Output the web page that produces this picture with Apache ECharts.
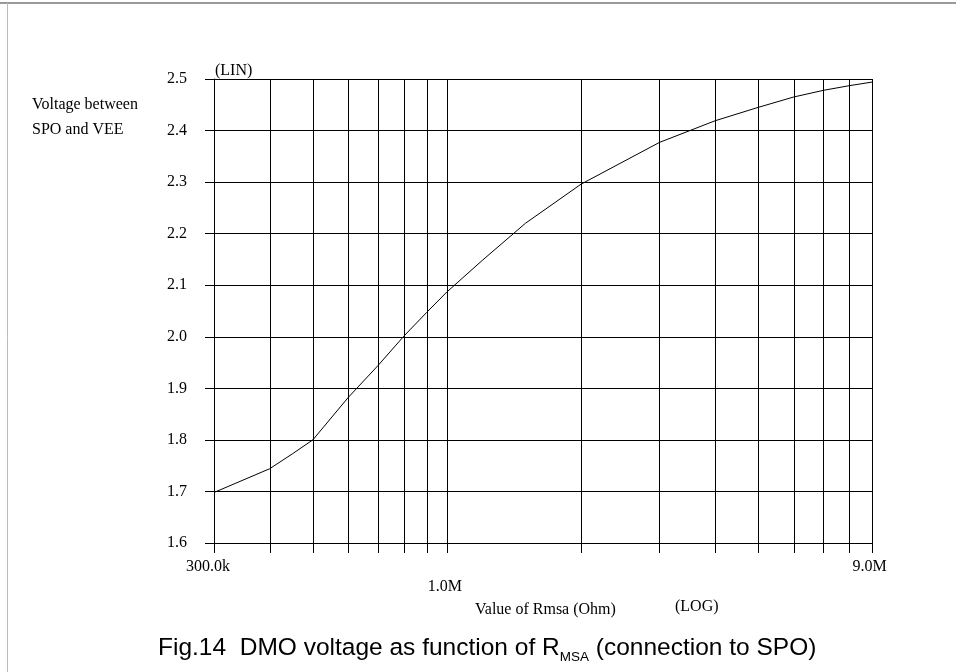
<!DOCTYPE html>
<html>
<head>
<meta charset="utf-8">
<title>DMO voltage vs Rmsa</title>
<script src="https://cdn.jsdelivr.net/npm/echarts@6/dist/echarts.min.js"></script>
<style>
  html, body { margin: 0; padding: 0; background: #fff; }
  #chart { width: 956px; height: 672px; }
</style>
</head>
<body>
<div id="chart"></div>
<script>
// Rmsa sweep (Ohm) and the resulting SPO-VEE voltage (V)
const rValues = [300e3, 400e3, 450e3, 500e3, 600e3, 700e3, 800e3, 900e3, 1e6,
                 1.2e6, 1.5e6, 2e6, 3e6, 4e6, 5e6, 6e6, 7e6, 8e6, 9e6];
const vValues = [1.698, 1.744, 1.773, 1.800, 1.882, 1.944, 2.001, 2.047, 2.087,
                 2.148, 2.220, 2.296, 2.377, 2.419, 2.445, 2.465, 2.478, 2.487, 2.494];

// Vertical grid positions on the logarithmic axis
const xGridValues = [300e3, 400e3, 500e3, 600e3, 700e3, 800e3, 900e3, 1e6,
                     2e6, 3e6, 4e6, 5e6, 6e6, 7e6, 8e6, 9e6];

// Axis ranges
const xMin = 300e3, xMax = 9e6;
const yMin = 1.6, yMax = 2.5, yStep = 0.1;

const serif = 'Liberation Serif';
const sans = 'Liberation Sans';

function fmtOhm(v) {
  if (v >= 1e6) return (v / 1e6).toFixed(1) + 'M';
  return (v / 1e3).toFixed(1) + 'k';
}

const chart = echarts.init(document.getElementById('chart'), null, { renderer: 'canvas' });

chart.setOption({
  animation: false,
  backgroundColor: '#fff',
  grid: { left: 214, top: 79, width: 658, height: 464, containLabel: false },
  xAxis: {
    type: 'log',
    logBase: 10,
    min: xMin,
    max: xMax,
    axisLine: { show: true, lineStyle: { color: '#000', width: 1 } },
    axisTick: { show: false },
    splitLine: { show: false },
    minorTick: { show: false },
    axisLabel: {
      showMinLabel: true,
      showMaxLabel: true,
      margin: 16,
      color: '#000',
      fontFamily: serif,
      fontSize: 16,
      formatter: function (v, i) {
        const t = fmtOhm(v);
        if (i === 0) return '{first|' + t + '}';
        if (v > 5e5 && v < 2e6) return '{low|' + t + '}';
        return '{norm|' + t + '}';
      },
      rich: {
        first: { fontFamily: serif, fontSize: 16, color: '#000', padding: [0, 12, 0, 0] },
        norm: { fontFamily: serif, fontSize: 16, color: '#000', padding: [0, 5, 0, 0] },
        low: { fontFamily: serif, fontSize: 16, color: '#000', padding: [20, 4, 0, 0] }
      }
    }
  },
  yAxis: {
    type: 'value',
    min: yMin,
    max: yMax,
    interval: yStep,
    axisLine: { show: true, lineStyle: { color: '#000', width: 1 } },
    axisTick: { show: true, inside: false, length: 9, lineStyle: { color: '#000', width: 1 } },
    splitLine: { show: true, lineStyle: { color: '#000', width: 1 } },
    axisLabel: {
      margin: 27,
      color: '#000',
      fontFamily: serif,
      fontSize: 16,
      formatter: function (v) { return v.toFixed(1); }
    }
  },
  graphic: [
    // page frame
    { type: 'line', shape: { x1: 0, y1: 3, x2: 956, y2: 3 }, style: { stroke: '#777', lineWidth: 1.5 }, silent: true },
    { type: 'line', shape: { x1: 7.5, y1: 3, x2: 7.5, y2: 672 }, style: { stroke: '#bbb', lineWidth: 1 }, silent: true },
    { type: 'text', x: 215, y: 71, style: { text: '(LIN)', font: '16px "' + serif + '"', fill: '#000', textVerticalAlign: 'middle' } },
    { type: 'text', x: 32, y: 105, style: { text: 'Voltage between', font: '16px "' + serif + '"', fill: '#000', textVerticalAlign: 'middle' } },
    { type: 'text', x: 32, y: 130, style: { text: 'SPO and VEE', font: '16px "' + serif + '"', fill: '#000', textVerticalAlign: 'middle' } },
    { type: 'text', x: 475, y: 610, style: { text: 'Value of Rmsa (Ohm)', font: '16px "' + serif + '"', fill: '#000', textVerticalAlign: 'middle' } },
    { type: 'text', x: 675, y: 607, style: { text: '(LOG)', font: '16px "' + serif + '"', fill: '#000', textVerticalAlign: 'middle' } },
    {
      type: 'text', x: 158, y: 636,
      style: {
        text: '{m|Fig.14  DMO voltage as function of R}{s|MSA}{m| (connection to SPO)}',
        fill: '#000',
        rich: {
          m: { fontFamily: sans, fontSize: 24.5, lineHeight: 27, color: '#000', verticalAlign: 'top' },
          s: { fontFamily: sans, fontSize: 13.5, lineHeight: 14, color: '#000', verticalAlign: 'top', padding: [14, 0, 0, 0] }
        }
      }
    }
  ],
  series: [
    {
      // vertical grid lines, each with a short tick below the axis
      type: 'custom',
      silent: true,
      z: 1,
      data: xGridValues.map(function (v) { return [v, yMin]; }),
      encode: { x: 0, y: 1 },
      renderItem: function (params, api) {
        const x = api.value(0);
        const top = api.coord([x, yMax]);
        const bot = api.coord([x, yMin]);
        const px = Math.round(top[0]) + 0.5;
        return {
          type: 'line',
          shape: { x1: px, y1: top[1], x2: px, y2: bot[1] + 10 },
          style: { stroke: '#000', lineWidth: 1 }
        };
      }
    },
    {
      type: 'line',
      z: 3,
      data: rValues.map(function (r, i) { return [r, vValues[i]]; }),
      showSymbol: false,
      symbol: 'none',
      smooth: false,
      lineStyle: { color: '#000', width: 1 }
    }
  ]
});
</script>
</body>
</html>
